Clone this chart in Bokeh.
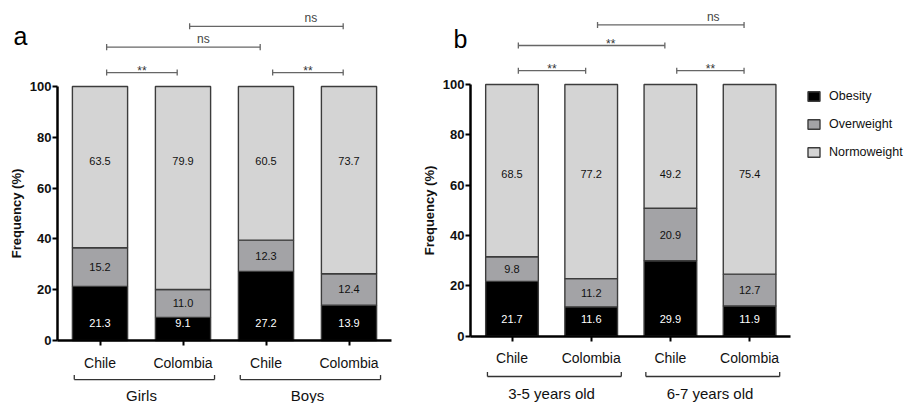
from bokeh.plotting import figure
from bokeh.layouts import row
from bokeh.models import (LinearAxis, FixedTicker, Range1d, Legend, LegendItem,
                          ColumnDataSource, Label)
from bokeh.core.properties import value
from bokeh.embed import file_html
from bokeh.resources import INLINE

# ---------------- data ----------------
countries = ["Chile", "Colombia", "Chile", "Colombia"]
groups_a = ["Girls", "Boys"]
groups_b = ["3-5 years old", "6-7 years old"]
series = ["Obesity", "Overweight", "Normoweight"]

obesity_a = [21.3, 9.1, 27.2, 13.9]
overweight_a = [15.2, 11.0, 12.3, 12.4]
normo_a = [63.5, 79.9, 60.5, 73.7]

obesity_b = [21.7, 11.6, 29.9, 11.9]
overweight_b = [9.8, 11.2, 20.9, 12.7]
normo_b = [68.5, 77.2, 49.2, 75.4]

# significance comparisons: (bar i, bar j, label)
sig_a = [(1, 2, "**"), (1, 3, "ns"), (2, 4, "ns"), (3, 4, "**")]
sig_b = [(1, 2, "**"), (1, 3, "**"), (2, 4, "ns"), (3, 4, "**")]

y_ticks = [0, 20, 40, 60, 80, 100]

# ---------------- style ----------------
FONT = "Liberation Sans"
COLORS = ["#000000", "#a3a3a6", "#d4d4d4"]
OUTLINE = "#3c3c3c"
SIG_LEVELS = [105.5, 115.5, 123.7, 105.5]
SIG_TEXT_FRAC = [0.5, 0.63, 0.79, 0.5]
BAR_W = 0.665
H = 403


def make_panel(letter, obesity, overweight, normo, groups, sigs, cfg, legend=False):
    p = figure(width=cfg["w"], height=H, x_range=Range1d(*cfg["xr"]),
               y_range=Range1d(*cfg["yr"]), output_backend="svg",
               toolbar_location=None, x_axis_location=None, y_axis_location=None,
               min_border=0, min_border_left=0, min_border_right=0,
               min_border_top=0, min_border_bottom=0)
    p.outline_line_color = None
    p.xgrid.visible = False
    p.ygrid.visible = False
    p.background_fill_color = "white"
    yaxis_x = cfg["yaxis_x"]

    xs = [1, 2, 3, 4]
    ob_top = obesity
    ow_top = [a + b for a, b in zip(obesity, overweight)]
    nw_top = [a + b + c for a, b, c in zip(obesity, overweight, normo)]
    src = ColumnDataSource(dict(x=xs, ob=ob_top, ow=ow_top, nw=nw_top,
                                zero=[0] * 4))
    r1 = p.vbar(x="x", width=BAR_W, bottom="zero", top="ob", source=src,
                fill_color=COLORS[0], line_color=OUTLINE, line_width=1.4)
    r2 = p.vbar(x="x", width=BAR_W, bottom="ob", top="ow", source=src,
                fill_color=COLORS[1], line_color=OUTLINE, line_width=1.4)
    r3 = p.vbar(x="x", width=BAR_W, bottom="ow", top="nw", source=src,
                fill_color=COLORS[2], line_color=OUTLINE, line_width=1.4)

    # value labels
    lab = ColumnDataSource(dict(
        x=xs,
        y_ob=[cfg["ob_y"]] * 4,
        y_ow=[(a + b) / 2 for a, b in zip(ob_top, ow_top)],
        y_nw=[cfg["nw_y"]] * 4,
        t_ob=[f"{v:.1f}" for v in obesity],
        t_ow=[f"{v:.1f}" for v in overweight],
        t_nw=[f"{v:.1f}" for v in normo],
    ))
    common = dict(source=lab, text_align="center", text_baseline="middle",
                  text_font=value(FONT), text_font_size="11px")
    p.text(x="x", y="y_ob", text="t_ob", text_color="white", **common)
    p.text(x="x", y="y_ow", text="t_ow", text_color="#111111", **common)
    p.text(x="x", y="y_nw", text="t_nw", text_color="#111111", **common)

    # y axis
    yax = LinearAxis(fixed_location=yaxis_x, bounds=(0, 100),
                     ticker=FixedTicker(ticks=y_ticks))
    yax.axis_label = "Frequency (%)"
    yax.axis_label_text_font = FONT
    yax.axis_label_text_font_style = "bold"
    yax.axis_label_text_font_size = "13px"
    yax.axis_label_text_color = "#111111"
    yax.axis_label_standoff = 3
    yax.major_label_text_font = FONT
    yax.major_label_text_font_style = "bold"
    yax.major_label_text_font_size = "13px"
    yax.major_label_text_color = "#111111"
    yax.major_label_standoff = 1
    yax.axis_line_width = 2.5
    yax.axis_line_color = "black"
    yax.major_tick_line_width = 2
    yax.major_tick_out = 5
    yax.major_tick_in = 0
    yax.minor_tick_line_color = None
    p.add_layout(yax, "left")

    # x axis
    xax = LinearAxis(fixed_location=0, bounds=(yaxis_x, 4.518),
                     ticker=FixedTicker(ticks=xs))
    xax.major_label_overrides = {i + 1: c for i, c in enumerate(countries)}
    xax.major_label_text_font = FONT
    xax.major_label_text_font_size = "14px"
    xax.major_label_text_color = "#111111"
    xax.major_label_standoff = 9
    xax.axis_line_width = 2.5
    xax.axis_line_color = "black"
    xax.major_tick_line_width = 2
    xax.major_tick_out = 5
    xax.major_tick_in = 0
    xax.minor_tick_line_color = None
    p.add_layout(xax, "below")

    # group brackets
    gl, gc = cfg["grp_line"], cfg["grp_cap"]
    for k, g in enumerate(groups):
        a = xs[2 * k] - 0.31
        b = xs[2 * k + 1] + 0.38
        p.segment(x0=[a, a, b], y0=[gl, gl, gl], x1=[b, a, b], y1=[gl, gc, gc],
                  line_color="#333333", line_width=1.3)
        p.text(x=[(xs[2 * k] + xs[2 * k + 1]) / 2], y=[cfg["grp_y"]], text=[g],
               text_align="center", text_baseline="middle",
               text_font=value(FONT), text_font_size="15px", text_color="#111111")

    # significance brackets
    for (i, j, t), lvl, frac in zip(sigs, SIG_LEVELS, SIG_TEXT_FRAC):
        a = i + 0.08
        b = j - 0.07
        p.segment(x0=[a, a, b], y0=[lvl, lvl - 1.2, lvl - 1.2],
                  x1=[b, a, b], y1=[lvl, lvl + 1.2, lvl + 1.2],
                  line_color="#666666", line_width=1.3)
        if t == "**":
            p.text(x=[a + frac * (b - a)], y=[lvl], text=[t], text_align="center",
                   text_baseline="alphabetic", y_offset=-2,
                   text_font=value(FONT), text_font_size="12px", text_color="#333333")
        else:
            p.text(x=[a + frac * (b - a)], y=[lvl], text=[t], text_align="center",
                   text_baseline="bottom", y_offset=-1,
                   text_font=value(FONT), text_font_size="12px", text_color="#444444")

    p.add_layout(Label(x=cfg["letter_xy"][0], y=cfg["letter_xy"][1],
                       x_units="screen", y_units="screen", text=letter,
                       text_font=FONT, text_font_size="25px",
                       text_baseline="alphabetic", text_color="black"))

    if legend:
        leg = Legend(items=[LegendItem(label=series[0], renderers=[r1]),
                            LegendItem(label=series[1], renderers=[r2]),
                            LegendItem(label=series[2], renderers=[r3])],
                     location=cfg["legend_loc"], orientation="vertical")
        leg.glyph_width = 15
        leg.glyph_height = 12
        leg.label_height = 12
        leg.label_standoff = 8
        leg.spacing = 14
        leg.padding = 0
        leg.margin = 0
        leg.border_line_color = None
        leg.background_fill_alpha = 0
        leg.label_text_font = FONT
        leg.label_text_font_size = "12.5px"
        leg.label_text_color = "#111111"
        p.add_layout(leg)
    return p


WA, WB = 420, 486
xa0 = 1 - 99.5 / 83
xb0 = 1 - (511.5 - WA) / 79.2
cfg_a = dict(
    w=WA,
    xr=(xa0, xa0 + WA / 83),
    yr=((340 - H) / 2.54, 340 / 2.54),
    yaxis_x=1 - (99.5 - 57) / 83,
    ob_y=6.7, nw_y=70.5,
    grp_line=-15.4, grp_cap=-13.6, grp_y=-21.6,
    letter_xy=(13, 368),
)
cfg_b = dict(
    w=WB,
    xr=(xb0, xb0 + WB / 79.2),
    yr=((335.5 - H) / 2.515, 335.5 / 2.515),
    yaxis_x=1 - (511.5 - 470) / 79.2,
    ob_y=6.7, nw_y=64.5,
    grp_line=-16.1, grp_cap=-14.3, grp_y=-22.7,
    letter_xy=(453 - WA, 365),
    legend_loc=(806 - WA, 244),
)

pa = make_panel("a", obesity_a, overweight_a, normo_a, groups_a, sig_a, cfg_a)
pb = make_panel("b", obesity_b, overweight_b, normo_b, groups_b, sig_b, cfg_b, legend=True)

layout = row(pa, pb, spacing=0)
open("out.html", "w").write(file_html(layout, INLINE))
